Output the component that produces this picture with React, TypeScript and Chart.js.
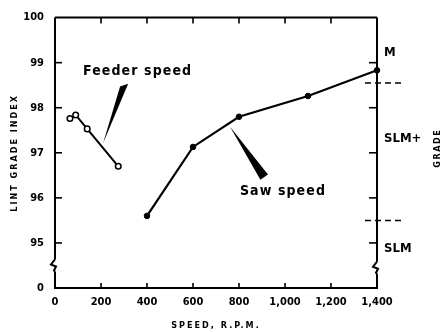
import { useEffect, useRef } from 'react';
import { Chart, registerables } from 'chart.js';
Chart.register(...registerables);

const sawSpeed = [400, 600, 800, 1100, 1400];
const sawGrade = [95.6, 97.13, 97.8, 98.26, 98.83];
const feederSpeed = [65, 90, 140, 275];
const feederGrade = [97.76, 97.84, 97.53, 96.7];
const speedTicks = [0, 200, 400, 600, 800, 1000, 1200, 1400];
const gradeIndexTicks = [94, 95, 96, 97, 98, 99, 100];
const gradeIndexLabels = ['0', '95', '96', '97', '98', '99', '100'];
const gradeNames = ['M', 'SLM+', 'SLM'];
const gradeNameLevels = [99.23, 97.31, 94.88];
const gradeBoundaries = [98.55, 95.5];

const FONT = '"DejaVu Sans Condensed", "DejaVu Sans", sans-serif';

function line(ctx: CanvasRenderingContext2D, x1: number, y1: number, x2: number, y2: number) {
  ctx.beginPath();
  ctx.moveTo(x1, y1);
  ctx.lineTo(x2, y2);
  ctx.stroke();
}

const decor = {
  id: 'decor',
  beforeDatasetsDraw(chart: any) {
    const { ctx, chartArea: a, scales } = chart;
    const x = scales.x;
    const y = scales.y;
    ctx.save();
    ctx.strokeStyle = '#000';
    ctx.lineWidth = 2;
    // top & bottom
    line(ctx, a.left, a.top, a.right, a.top);
    line(ctx, a.left - 1, a.bottom, a.right + 1, a.bottom);
    // left axis with break
    const bl = y.getPixelForValue(94.5);
    line(ctx, a.left, a.top, a.left, bl - 6);
    ctx.beginPath();
    ctx.moveTo(a.left, bl - 6);
    ctx.lineTo(a.left - 4, bl - 1);
    ctx.lineTo(a.left + 1, bl + 1);
    ctx.lineTo(a.left - 1, bl + 5);
    ctx.lineTo(a.left, bl + 6);
    ctx.stroke();
    line(ctx, a.left, bl + 6, a.left, a.bottom);
    // right axis with break
    const br = y.getPixelForValue(94.45);
    line(ctx, a.right, a.top, a.right, br - 6);
    ctx.beginPath();
    ctx.moveTo(a.right, br - 6);
    ctx.lineTo(a.right - 4, br - 1);
    ctx.lineTo(a.right + 1, br + 1);
    ctx.lineTo(a.right - 1, br + 5);
    ctx.lineTo(a.right, br + 6);
    ctx.stroke();
    line(ctx, a.right, br + 6, a.right, a.bottom);
    // ticks
    ctx.lineWidth = 1.6;
    for (const v of gradeIndexTicks) {
      if (v <= 94 || v >= 100) continue;
      const py = y.getPixelForValue(v);
      line(ctx, a.left, py, a.left + 7, py);
      line(ctx, a.right - 8, py, a.right, py);
    }
    for (const v of speedTicks) {
      if (v <= 0 || v >= 1400) continue;
      const px = x.getPixelForValue(v);
      line(ctx, px, a.top, px, a.top + 6);
      line(ctx, px, a.bottom, px, a.bottom - 5);
    }
    // grade boundaries
    ctx.setLineDash([6, 4]);
    ctx.lineWidth = 1.5;
    for (const g of gradeBoundaries) {
      const py = y.getPixelForValue(g);
      line(ctx, a.right - 12, py, a.right + 26, py);
    }
    ctx.setLineDash([]);
    ctx.restore();
  },
  afterDatasetsDraw(chart: any) {
    const { ctx, chartArea: a, scales } = chart;
    const x = scales.x;
    const y = scales.y;
    ctx.save();
    ctx.fillStyle = '#000';
    ctx.textBaseline = 'middle';
    // annotation text
    ctx.font = `bold 14px ${FONT}`;
    (ctx as any).letterSpacing = '1.1px';
    ctx.textAlign = 'left';
    ctx.fillText('Feeder speed', x.getPixelForValue(122), y.getPixelForValue(98.81));
    ctx.fillText('Saw speed', x.getPixelForValue(804), y.getPixelForValue(96.15));
    // wedges
    const wedge = (pts: number[][]) => {
      ctx.beginPath();
      pts.forEach(([sx, gy], i) => {
        const px = x.getPixelForValue(sx);
        const py = y.getPixelForValue(gy);
        if (i === 0) ctx.moveTo(px, py);
        else ctx.lineTo(px, py);
      });
      ctx.closePath();
      ctx.fill();
    };
    wedge([[283, 98.47], [318, 98.53], [209, 97.21]]);
    wedge([[761, 97.58], [893, 96.4], [926, 96.52]]);
    // grade names
    (ctx as any).letterSpacing = '0px';
    ctx.font = `bold 13px ${FONT}`;
    gradeNames.forEach((n, i) => {
      ctx.fillText(n, a.right + 7, y.getPixelForValue(gradeNameLevels[i]));
    });
    // axis titles
    ctx.font = `bold 9px ${FONT}`;
    (ctx as any).letterSpacing = '2px';
    ctx.textAlign = 'center';
    ctx.fillText('SPEED, R.P.M.', (a.left + a.right) / 2, a.bottom + 38);
    ctx.save();
    ctx.translate(15, (a.top + a.bottom) / 2);
    ctx.rotate(-Math.PI / 2);
    ctx.fillText('LINT GRADE INDEX', 0, 0);
    ctx.restore();
    ctx.save();
    ctx.translate(a.right + 61, y.getPixelForValue(97.1));
    ctx.rotate(-Math.PI / 2);
    (ctx as any).letterSpacing = '1.5px';
    ctx.fillText('GRADE', 0, 0);
    ctx.restore();
    ctx.restore();
  },
};

export default function App() {
  const ref = useRef<HTMLCanvasElement | null>(null);
  useEffect(() => {
    if (!ref.current) return;
    const tickFont = { family: FONT, size: 11, weight: 'bold' as const };
    const chart = new Chart(ref.current, {
      type: 'scatter',
      data: {
        datasets: [
          {
            label: 'Saw speed',
            data: sawSpeed.map((s, i) => ({ x: s, y: sawGrade[i] })),
            showLine: true,
            borderColor: '#000',
            borderWidth: 2.2,
            pointRadius: 2.8,
            pointBackgroundColor: '#000',
            pointBorderColor: '#000',
            pointBorderWidth: 1,
            clip: false,
          } as any,
          {
            label: 'Feeder speed',
            data: feederSpeed.map((s, i) => ({ x: s, y: feederGrade[i] })),
            showLine: true,
            borderColor: '#000',
            borderWidth: 2,
            pointRadius: 2.8,
            pointBackgroundColor: '#fff',
            pointBorderColor: '#000',
            pointBorderWidth: 1.5,
            clip: false,
          } as any,
        ],
      },
      options: {
        animation: false,
        responsive: false,
        maintainAspectRatio: false,
        devicePixelRatio: 1,
        layout: { padding: { top: 15, right: 67, left: 0, bottom: 0 } },
        plugins: { legend: { display: false }, tooltip: { enabled: false } },
        scales: {
          x: {
            type: 'linear',
            min: 0,
            max: 1400,
            grid: { display: false, drawTicks: false },
            border: { display: false },
            afterBuildTicks: (s: any) => {
              s.ticks = speedTicks.map((v) => ({ value: v }));
            },
            afterFit: (s: any) => {
              s.height = 44;
            },
            ticks: {
              autoSkip: false,
              maxRotation: 0,
              padding: 8,
              color: '#000',
              font: tickFont,
              callback: (v: any) => Number(v).toLocaleString('en-US'),
            },
          },
          y: {
            type: 'linear',
            min: 94,
            max: 100,
            grid: { display: false, drawTicks: false },
            border: { display: false },
            afterBuildTicks: (s: any) => {
              s.ticks = gradeIndexTicks.map((v) => ({ value: v }));
            },
            afterFit: (s: any) => {
              s.width = 55;
            },
            ticks: {
              autoSkip: false,
              padding: 11,
              color: '#000',
              font: tickFont,
              callback: (v: any) => {
                const i = gradeIndexTicks.indexOf(Number(v));
                return i >= 0 ? gradeIndexLabels[i] : '';
              },
            },
          },
        },
      },
      plugins: [decor],
    });
    return () => chart.destroy();
  }, []);
  return (
    <div style={{ position: 'absolute', left: 0, top: 0, width: 444, height: 332, background: '#fff' }}>
      <canvas ref={ref} width={444} height={332} style={{ display: 'block' }} />
    </div>
  );
}
